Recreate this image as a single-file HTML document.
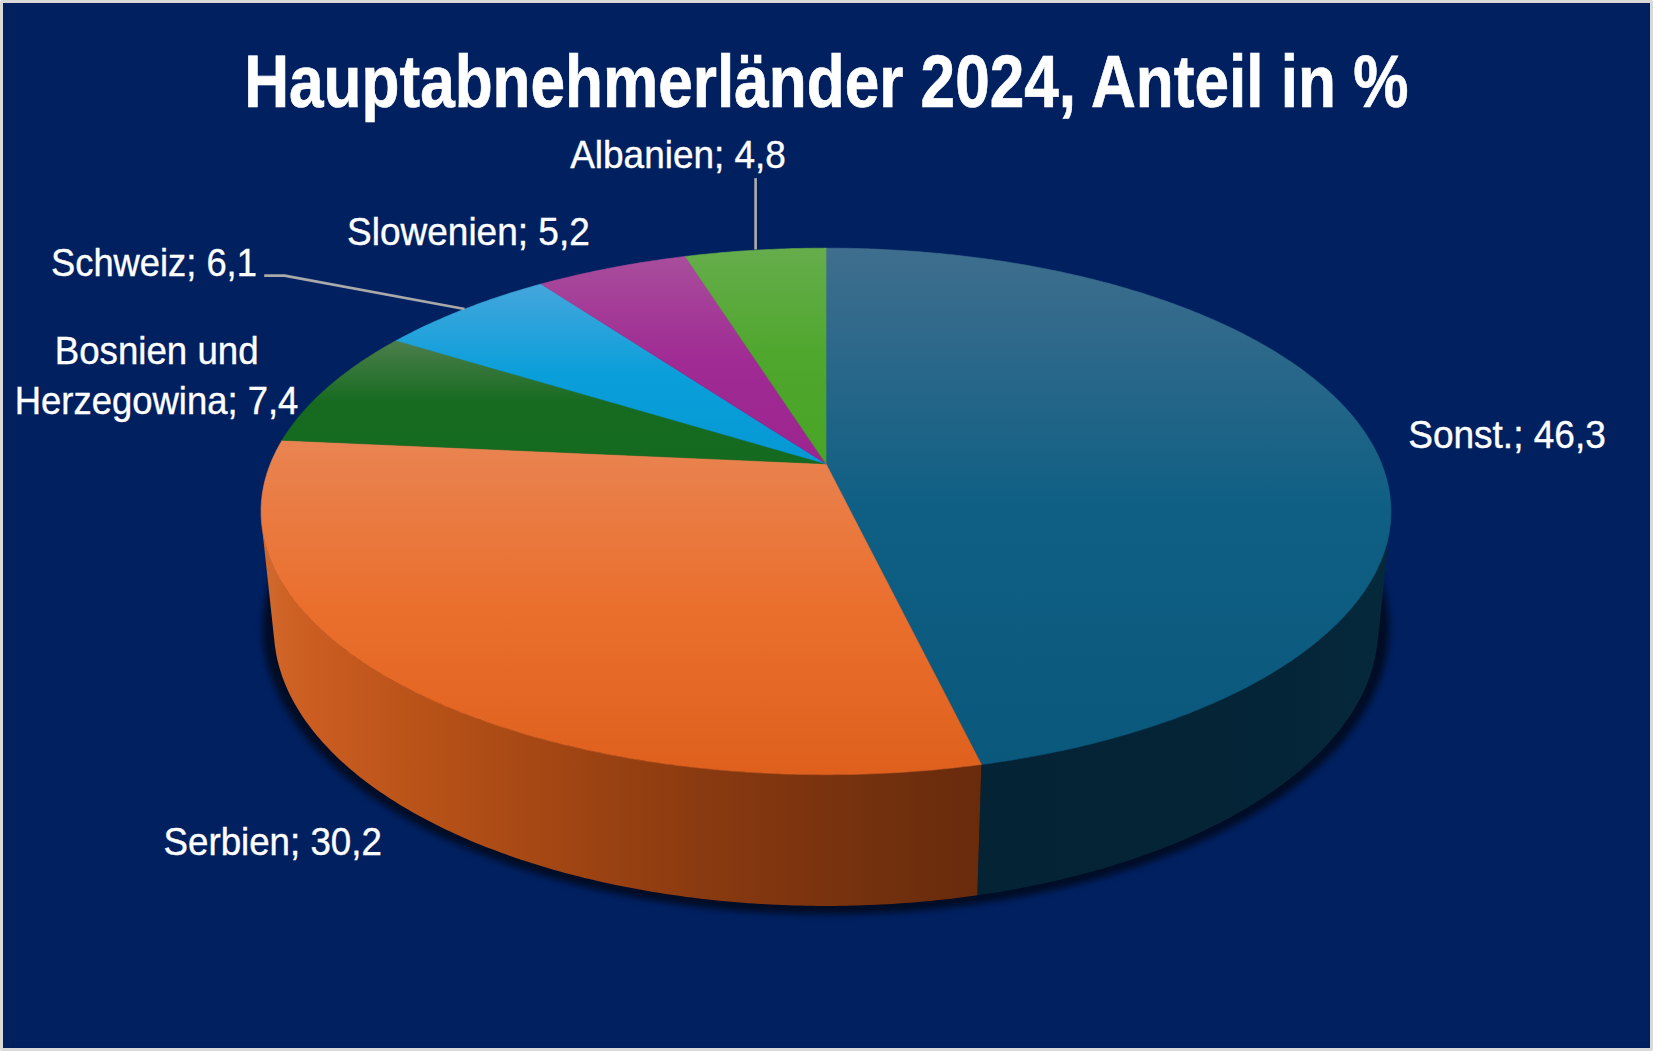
<!DOCTYPE html>
<html lang="de"><head><meta charset="utf-8"><title>Hauptabnehmerländer 2024, Anteil in %</title>
<style>
html,body{margin:0;padding:0;background:#d9d9d9;}
body{width:1653px;height:1051px;overflow:hidden;position:relative;}
#chart{position:absolute;left:3px;top:3px;width:1647px;height:1045px;background:#002060;box-shadow:inset 0 0 1px #00104a;}
svg{position:absolute;left:0;top:0;}
text{font-family:"Liberation Sans",sans-serif;fill:#fff;}
.lb{font-size:39.3px;stroke:#fff;stroke-width:0.4px;}
.ti{font-size:73.7px;font-weight:bold;stroke:#fff;stroke-width:0.7px;}
</style></head><body>
<div id="chart"></div>
<svg width="1653" height="1051" viewBox="0 0 1653 1051">
<defs>
<linearGradient id="g0" x1="0" y1="0" x2="0" y2="1"><stop offset="0" stop-color="#3f6e8e"/><stop offset="0.5" stop-color="#0f5f84"/><stop offset="1" stop-color="#0a587c"/></linearGradient>
<linearGradient id="g1" x1="0" y1="0" x2="0" y2="1"><stop offset="0" stop-color="#e98452"/><stop offset="0.5" stop-color="#ea6f2d"/><stop offset="1" stop-color="#df601d"/></linearGradient>
<linearGradient id="g2" x1="0" y1="0" x2="0" y2="1"><stop offset="0" stop-color="#4d7e4c"/><stop offset="0.5" stop-color="#166b20"/><stop offset="1" stop-color="#146a1e"/></linearGradient>
<linearGradient id="g3" x1="0" y1="0" x2="0" y2="1"><stop offset="0" stop-color="#44a6dc"/><stop offset="0.5" stop-color="#0a9fda"/><stop offset="1" stop-color="#0598d4"/></linearGradient>
<linearGradient id="g4" x1="0" y1="0" x2="0" y2="1"><stop offset="0" stop-color="#a84d9c"/><stop offset="0.5" stop-color="#a02b94"/><stop offset="1" stop-color="#9c2490"/></linearGradient>
<linearGradient id="g5" x1="0" y1="0" x2="0" y2="1"><stop offset="0" stop-color="#66ad4c"/><stop offset="0.5" stop-color="#4fa72d"/><stop offset="1" stop-color="#48a426"/></linearGradient>
<linearGradient id="sO" gradientUnits="userSpaceOnUse" x1="262" y1="0" x2="980" y2="0"><stop offset="0" stop-color="#d06a30"/><stop offset="0.03" stop-color="#cf6326"/><stop offset="0.07" stop-color="#cb5d21"/><stop offset="0.227" stop-color="#b85218"/><stop offset="0.33" stop-color="#ac4b15"/><stop offset="0.47" stop-color="#9b4212"/><stop offset="0.61" stop-color="#8a3a10"/><stop offset="0.75" stop-color="#7d340f"/><stop offset="0.89" stop-color="#702f0d"/><stop offset="1" stop-color="#682b0c"/></linearGradient>
<linearGradient id="sT" gradientUnits="userSpaceOnUse" x1="978" y1="0" x2="1390" y2="0"><stop offset="0" stop-color="#042436"/><stop offset="0.75" stop-color="#042537"/><stop offset="1" stop-color="#05293b"/></linearGradient>
<filter id="sh" x="-5%" y="-5%" width="110%" height="110%"><feGaussianBlur stdDeviation="3.3"/></filter>
</defs>
<g filter="url(#sh)" opacity="0.6"><path d="M826.0 341.1 L830.1 341.1 L834.2 341.1 L838.3 341.2 L842.4 341.2 L846.5 341.3 L850.7 341.4 L854.8 341.5 L858.9 341.6 L863.0 341.7 L867.1 341.9 L871.2 342.0 L875.3 342.2 L879.4 342.4 L883.5 342.6 L887.6 342.8 L891.6 343.1 L895.7 343.3 L899.8 343.6 L903.9 343.9 L908.0 344.2 L912.0 344.5 L916.1 344.8 L920.2 345.1 L924.2 345.5 L928.3 345.9 L932.4 346.3 L936.4 346.7 L940.5 347.1 L944.5 347.5 L948.5 348.0 L952.6 348.4 L956.6 348.9 L960.6 349.4 L964.6 349.9 L968.6 350.4 L972.6 351.0 L976.6 351.5 L980.6 352.1 L984.6 352.7 L988.6 353.3 L992.5 353.9 L996.5 354.6 L1000.4 355.2 L1004.4 355.9 L1008.3 356.5 L1012.3 357.2 L1016.2 357.9 L1020.1 358.7 L1024.0 359.4 L1027.9 360.2 L1031.8 360.9 L1035.7 361.7 L1039.5 362.5 L1043.4 363.3 L1047.2 364.1 L1051.1 365.0 L1054.9 365.8 L1058.7 366.7 L1062.5 367.6 L1066.3 368.5 L1070.1 369.4 L1073.9 370.4 L1077.7 371.3 L1081.4 372.3 L1085.2 373.3 L1088.9 374.2 L1092.6 375.3 L1096.3 376.3 L1100.0 377.3 L1103.7 378.4 L1107.4 379.4 L1111.0 380.5 L1114.7 381.6 L1118.3 382.7 L1121.9 383.9 L1125.5 385.0 L1129.1 386.1 L1132.7 387.3 L1136.2 388.5 L1139.8 389.7 L1143.3 390.9 L1146.8 392.2 L1150.3 393.4 L1153.8 394.7 L1157.3 395.9 L1160.7 397.2 L1164.2 398.5 L1167.6 399.8 L1171.0 401.2 L1174.4 402.5 L1177.8 403.9 L1181.1 405.2 L1184.4 406.6 L1187.8 408.0 L1191.1 409.5 L1194.3 410.9 L1197.6 412.3 L1200.8 413.8 L1204.1 415.3 L1207.3 416.8 L1210.5 418.3 L1213.6 419.8 L1216.8 421.3 L1219.9 422.9 L1223.0 424.4 L1226.1 426.0 L1229.2 427.6 L1232.2 429.2 L1235.2 430.8 L1238.2 432.4 L1241.2 434.1 L1244.2 435.7 L1247.1 437.4 L1250.0 439.1 L1252.9 440.8 L1255.8 442.5 L1258.7 444.2 L1261.5 445.9 L1264.3 447.7 L1267.1 449.5 L1269.8 451.2 L1272.5 453.0 L1275.2 454.8 L1277.9 456.7 L1280.6 458.5 L1283.2 460.3 L1285.8 462.2 L1288.4 464.1 L1290.9 465.9 L1293.5 467.8 L1296.0 469.7 L1298.4 471.7 L1300.9 473.6 L1303.3 475.5 L1305.7 477.5 L1308.0 479.5 L1310.4 481.4 L1312.7 483.4 L1314.9 485.4 L1317.2 487.5 L1319.4 489.5 L1321.6 491.5 L1323.8 493.6 L1325.9 495.7 L1328.0 497.7 L1330.1 499.8 L1332.1 501.9 L1334.1 504.0 L1336.1 506.2 L1338.0 508.3 L1339.9 510.4 L1341.8 512.6 L1343.7 514.8 L1345.5 516.9 L1347.3 519.1 L1349.0 521.3 L1350.7 523.5 L1352.4 525.8 L1354.1 528.0 L1355.7 530.2 L1357.2 532.5 L1358.8 534.7 L1360.3 537.0 L1361.8 539.3 L1363.2 541.6 L1364.6 543.9 L1366.0 546.2 L1367.3 548.5 L1368.6 550.8 L1369.9 553.2 L1371.1 555.5 L1372.3 557.9 L1373.4 560.2 L1374.5 562.6 L1375.6 565.0 L1376.6 567.4 L1377.6 569.8 L1378.6 572.2 L1379.5 574.6 L1380.4 577.0 L1381.2 579.4 L1382.0 581.9 L1382.8 584.3 L1383.5 586.8 L1384.2 589.2 L1384.8 591.7 L1385.4 594.1 L1385.9 596.6 L1386.5 599.1 L1386.9 601.6 L1387.4 604.1 L1387.7 606.6 L1388.1 609.1 L1388.4 611.6 L1388.6 614.1 L1388.9 616.6 L1389.0 619.1 L1389.2 621.7 L1389.2 624.2 L1389.3 626.7 L1389.3 629.3 L1389.2 631.8 L1389.1 634.4 L1389.0 636.9 L1388.8 639.5 L1388.6 642.1 L1388.3 644.6 L1388.0 647.2 L1387.6 649.7 L1387.2 652.3 L1386.7 654.9 L1386.2 657.5 L1385.7 660.0 L1385.1 662.6 L1384.5 665.2 L1383.8 667.8 L1383.0 670.4 L1382.2 672.9 L1381.4 675.5 L1380.5 678.1 L1379.6 680.7 L1378.6 683.2 L1377.6 685.8 L1376.5 688.4 L1375.4 691.0 L1374.2 693.6 L1373.0 696.1 L1371.8 698.7 L1370.4 701.3 L1369.1 703.8 L1367.7 706.4 L1366.2 709.0 L1364.7 711.5 L1363.1 714.1 L1361.5 716.6 L1359.9 719.2 L1358.2 721.7 L1356.4 724.3 L1354.6 726.8 L1352.7 729.3 L1350.8 731.8 L1348.9 734.4 L1346.9 736.9 L1344.8 739.4 L1342.7 741.9 L1340.6 744.4 L1338.4 746.9 L1336.1 749.3 L1333.8 751.8 L1331.5 754.3 L1329.1 756.7 L1326.6 759.2 L1324.1 761.6 L1321.6 764.0 L1319.0 766.5 L1316.3 768.9 L1313.6 771.3 L1310.9 773.7 L1308.1 776.0 L1305.2 778.4 L1302.3 780.8 L1299.4 783.1 L1296.4 785.4 L1293.4 787.8 L1290.3 790.1 L1287.1 792.4 L1283.9 794.7 L1280.7 796.9 L1277.4 799.2 L1274.1 801.4 L1270.7 803.7 L1267.3 805.9 L1263.8 808.1 L1260.3 810.3 L1256.8 812.5 L1253.2 814.6 L1249.5 816.8 L1245.8 818.9 L1242.1 821.0 L1238.3 823.1 L1234.4 825.2 L1230.6 827.2 L1226.6 829.3 L1222.7 831.3 L1218.6 833.3 L1214.6 835.3 L1210.5 837.2 L1206.3 839.2 L1202.2 841.1 L1197.9 843.0 L1193.7 844.9 L1189.3 846.8 L1185.0 848.7 L1180.6 850.5 L1176.2 852.3 L1171.7 854.1 L1167.2 855.8 L1162.6 857.6 L1158.0 859.3 L1153.4 861.0 L1148.7 862.7 L1144.0 864.4 L1139.3 866.0 L1134.5 867.6 L1129.7 869.2 L1124.8 870.7 L1119.9 872.3 L1115.0 873.8 L1110.1 875.3 L1105.1 876.8 L1100.1 878.2 L1095.0 879.6 L1089.9 881.0 L1084.8 882.4 L1079.6 883.7 L1074.5 885.0 L1069.3 886.3 L1064.0 887.6 L1058.8 888.8 L1053.5 890.0 L1048.1 891.2 L1042.8 892.3 L1037.4 893.5 L1032.0 894.6 L1026.6 895.6 L1021.1 896.7 L1015.7 897.7 L1010.2 898.7 L1004.6 899.6 L999.1 900.5 L993.5 901.4 L987.9 902.3 L982.3 903.1 L976.7 904.0 L971.1 904.7 L965.4 905.5 L959.7 906.2 L954.0 906.9 L948.3 907.6 L942.6 908.2 L936.9 908.8 L931.1 909.4 L925.3 909.9 L919.6 910.4 L913.8 910.9 L908.0 911.4 L902.2 911.8 L896.3 912.2 L890.5 912.5 L884.7 912.9 L878.8 913.1 L873.0 913.4 L867.1 913.6 L861.2 913.8 L855.4 914.0 L849.5 914.2 L843.6 914.3 L837.8 914.3 L831.9 914.4 L826.0 914.4 L820.1 914.4 L814.2 914.3 L808.4 914.3 L802.5 914.2 L796.6 914.0 L790.8 913.8 L784.9 913.6 L779.0 913.4 L773.2 913.1 L767.3 912.9 L761.5 912.5 L755.7 912.2 L749.8 911.8 L744.0 911.4 L738.2 910.9 L732.4 910.4 L726.7 909.9 L720.9 909.4 L715.1 908.8 L709.4 908.2 L703.7 907.6 L698.0 906.9 L692.3 906.2 L686.6 905.5 L680.9 904.7 L675.3 904.0 L669.7 903.1 L664.1 902.3 L658.5 901.4 L652.9 900.5 L647.4 899.6 L641.8 898.7 L636.3 897.7 L630.9 896.7 L625.4 895.6 L620.0 894.6 L614.6 893.5 L609.2 892.3 L603.9 891.2 L598.5 890.0 L593.2 888.8 L588.0 887.6 L582.7 886.3 L577.5 885.0 L572.4 883.7 L567.2 882.4 L562.1 881.0 L557.0 879.6 L551.9 878.2 L546.9 876.8 L541.9 875.3 L537.0 873.8 L532.1 872.3 L527.2 870.7 L522.3 869.2 L517.5 867.6 L512.7 866.0 L508.0 864.4 L503.3 862.7 L498.6 861.0 L494.0 859.3 L489.4 857.6 L484.8 855.8 L480.3 854.1 L475.8 852.3 L471.4 850.5 L467.0 848.7 L462.7 846.8 L458.3 844.9 L454.1 843.0 L449.8 841.1 L445.7 839.2 L441.5 837.2 L437.4 835.3 L433.4 833.3 L429.3 831.3 L425.4 829.3 L421.4 827.2 L417.6 825.2 L413.7 823.1 L409.9 821.0 L406.2 818.9 L402.5 816.8 L398.8 814.6 L395.2 812.5 L391.7 810.3 L388.2 808.1 L384.7 805.9 L381.3 803.7 L377.9 801.4 L374.6 799.2 L371.3 796.9 L368.1 794.7 L364.9 792.4 L361.7 790.1 L358.6 787.8 L355.6 785.4 L352.6 783.1 L349.7 780.8 L346.8 778.4 L343.9 776.0 L341.1 773.7 L338.4 771.3 L335.7 768.9 L333.0 766.5 L330.4 764.0 L327.9 761.6 L325.4 759.2 L322.9 756.7 L320.5 754.3 L318.2 751.8 L315.9 749.3 L313.6 746.9 L311.4 744.4 L309.3 741.9 L307.2 739.4 L305.1 736.9 L303.1 734.4 L301.2 731.8 L299.3 729.3 L297.4 726.8 L295.6 724.3 L293.8 721.7 L292.1 719.2 L290.5 716.6 L288.9 714.1 L287.3 711.5 L285.8 709.0 L284.3 706.4 L282.9 703.8 L281.6 701.3 L280.2 698.7 L279.0 696.1 L277.8 693.6 L276.6 691.0 L275.5 688.4 L274.4 685.8 L273.4 683.2 L272.4 680.7 L271.5 678.1 L270.6 675.5 L269.8 672.9 L269.0 670.4 L268.2 667.8 L267.5 665.2 L266.9 662.6 L266.3 660.0 L265.8 657.5 L265.3 654.9 L264.8 652.3 L264.4 649.7 L264.0 647.2 L263.7 644.6 L263.4 642.1 L263.2 639.5 L263.0 636.9 L262.9 634.4 L262.8 631.8 L262.7 629.3 L262.7 626.7 L262.8 624.2 L262.8 621.7 L263.0 619.1 L263.1 616.6 L263.4 614.1 L263.6 611.6 L263.9 609.1 L264.3 606.6 L264.6 604.1 L265.1 601.6 L265.5 599.1 L266.1 596.6 L266.6 594.1 L267.2 591.7 L267.8 589.2 L268.5 586.8 L269.2 584.3 L270.0 581.9 L270.8 579.4 L271.6 577.0 L272.5 574.6 L273.4 572.2 L274.4 569.8 L275.4 567.4 L276.4 565.0 L277.5 562.6 L278.6 560.2 L279.7 557.9 L280.9 555.5 L282.1 553.2 L283.4 550.8 L284.7 548.5 L286.0 546.2 L287.4 543.9 L288.8 541.6 L290.2 539.3 L291.7 537.0 L293.2 534.7 L294.8 532.5 L296.3 530.2 L297.9 528.0 L299.6 525.8 L301.3 523.5 L303.0 521.3 L304.7 519.1 L306.5 516.9 L308.3 514.8 L310.2 512.6 L312.1 510.4 L314.0 508.3 L315.9 506.2 L317.9 504.0 L319.9 501.9 L321.9 499.8 L324.0 497.7 L326.1 495.7 L328.2 493.6 L330.4 491.5 L332.6 489.5 L334.8 487.5 L337.1 485.4 L339.3 483.4 L341.6 481.4 L344.0 479.5 L346.3 477.5 L348.7 475.5 L351.1 473.6 L353.6 471.7 L356.0 469.7 L358.5 467.8 L361.1 465.9 L363.6 464.1 L366.2 462.2 L368.8 460.3 L371.4 458.5 L374.1 456.7 L376.8 454.8 L379.5 453.0 L382.2 451.2 L384.9 449.5 L387.7 447.7 L390.5 445.9 L393.3 444.2 L396.2 442.5 L399.1 440.8 L402.0 439.1 L404.9 437.4 L407.8 435.7 L410.8 434.1 L413.8 432.4 L416.8 430.8 L419.8 429.2 L422.8 427.6 L425.9 426.0 L429.0 424.4 L432.1 422.9 L435.2 421.3 L438.4 419.8 L441.5 418.3 L444.7 416.8 L447.9 415.3 L451.2 413.8 L454.4 412.3 L457.7 410.9 L460.9 409.5 L464.2 408.0 L467.6 406.6 L470.9 405.2 L474.2 403.9 L477.6 402.5 L481.0 401.2 L484.4 399.8 L487.8 398.5 L491.3 397.2 L494.7 395.9 L498.2 394.7 L501.7 393.4 L505.2 392.2 L508.7 390.9 L512.2 389.7 L515.8 388.5 L519.3 387.3 L522.9 386.1 L526.5 385.0 L530.1 383.9 L533.7 382.7 L537.3 381.6 L541.0 380.5 L544.6 379.4 L548.3 378.4 L552.0 377.3 L555.7 376.3 L559.4 375.3 L563.1 374.2 L566.8 373.3 L570.6 372.3 L574.3 371.3 L578.1 370.4 L581.9 369.4 L585.7 368.5 L589.5 367.6 L593.3 366.7 L597.1 365.8 L600.9 365.0 L604.8 364.1 L608.6 363.3 L612.5 362.5 L616.3 361.7 L620.2 360.9 L624.1 360.2 L628.0 359.4 L631.9 358.7 L635.8 357.9 L639.7 357.2 L643.7 356.5 L647.6 355.9 L651.6 355.2 L655.5 354.6 L659.5 353.9 L663.4 353.3 L667.4 352.7 L671.4 352.1 L675.4 351.5 L679.4 351.0 L683.4 350.4 L687.4 349.9 L691.4 349.4 L695.4 348.9 L699.4 348.4 L703.5 348.0 L707.5 347.5 L711.5 347.1 L715.6 346.7 L719.6 346.3 L723.7 345.9 L727.8 345.5 L731.8 345.1 L735.9 344.8 L740.0 344.5 L744.0 344.2 L748.1 343.9 L752.2 343.6 L756.3 343.3 L760.4 343.1 L764.4 342.8 L768.5 342.6 L772.6 342.4 L776.7 342.2 L780.8 342.0 L784.9 341.9 L789.0 341.7 L793.1 341.6 L797.2 341.5 L801.3 341.4 L805.5 341.3 L809.6 341.2 L813.7 341.2 L817.8 341.1 L821.9 341.1 L826.0 341.1 Z" fill="#000"/></g>
<path d="M1390.3 523.5 L1390.1 525.8 L1389.8 528.2 L1389.4 530.6 L1389.0 532.9 L1388.6 535.3 L1388.1 537.7 L1387.6 540.0 L1387.0 542.4 L1386.4 544.8 L1385.7 547.2 L1385.0 549.5 L1384.2 551.9 L1383.4 554.3 L1382.5 556.7 L1381.6 559.1 L1380.6 561.4 L1379.6 563.8 L1378.6 566.2 L1377.4 568.6 L1376.3 570.9 L1375.1 573.3 L1373.8 575.7 L1372.5 578.1 L1371.2 580.4 L1369.8 582.8 L1368.3 585.2 L1366.8 587.5 L1365.2 589.9 L1363.6 592.2 L1362.0 594.6 L1360.3 596.9 L1358.5 599.3 L1356.7 601.6 L1354.9 604.0 L1353.0 606.3 L1351.0 608.6 L1349.0 610.9 L1346.9 613.2 L1344.8 615.6 L1342.7 617.9 L1340.5 620.2 L1338.2 622.4 L1335.9 624.7 L1333.5 627.0 L1331.1 629.3 L1328.7 631.5 L1326.2 633.8 L1323.6 636.0 L1321.0 638.3 L1318.3 640.5 L1315.6 642.7 L1312.9 644.9 L1310.1 647.1 L1307.2 649.3 L1304.3 651.5 L1301.3 653.7 L1298.3 655.8 L1295.3 658.0 L1292.2 660.1 L1289.0 662.2 L1285.8 664.3 L1282.6 666.4 L1279.3 668.5 L1275.9 670.6 L1272.5 672.7 L1269.1 674.7 L1265.6 676.8 L1262.0 678.8 L1258.5 680.8 L1254.8 682.8 L1251.1 684.8 L1247.4 686.7 L1243.6 688.7 L1239.8 690.6 L1236.0 692.5 L1232.0 694.4 L1228.1 696.3 L1224.1 698.2 L1220.0 700.0 L1215.9 701.9 L1211.8 703.7 L1207.6 705.5 L1203.4 707.3 L1199.1 709.1 L1194.8 710.8 L1190.5 712.5 L1186.1 714.2 L1181.7 715.9 L1177.2 717.6 L1172.7 719.3 L1168.1 720.9 L1163.5 722.5 L1158.9 724.1 L1154.2 725.7 L1149.5 727.2 L1144.7 728.8 L1139.9 730.3 L1135.1 731.8 L1130.2 733.2 L1125.3 734.7 L1120.4 736.1 L1115.4 737.5 L1110.4 738.9 L1105.4 740.2 L1100.3 741.5 L1095.2 742.8 L1090.1 744.1 L1084.9 745.4 L1079.7 746.6 L1074.5 747.8 L1069.2 749.0 L1063.9 750.2 L1058.6 751.3 L1053.2 752.4 L1047.9 753.5 L1042.5 754.6 L1037.0 755.6 L1031.6 756.6 L1026.1 757.6 L1020.6 758.5 L1015.0 759.5 L1009.5 760.4 L1003.9 761.3 L998.3 762.1 L992.7 762.9 L987.0 763.7 L981.4 764.5 L977.3 895.3 L982.8 894.5 L988.3 893.6 L993.8 892.8 L999.3 891.9 L1004.7 891.0 L1010.1 890.0 L1015.5 889.0 L1020.9 888.0 L1026.2 887.0 L1031.5 885.9 L1036.8 884.8 L1042.1 883.7 L1047.3 882.6 L1052.5 881.4 L1057.7 880.2 L1062.9 879.0 L1068.0 877.8 L1073.1 876.5 L1078.2 875.2 L1083.2 873.9 L1088.3 872.6 L1093.2 871.2 L1098.2 869.8 L1103.1 868.4 L1108.0 866.9 L1112.8 865.5 L1117.6 864.0 L1122.4 862.5 L1127.2 860.9 L1131.9 859.4 L1136.5 857.8 L1141.2 856.2 L1145.8 854.5 L1150.3 852.9 L1154.9 851.2 L1159.4 849.5 L1163.8 847.8 L1168.2 846.1 L1172.6 844.3 L1176.9 842.5 L1181.2 840.7 L1185.5 838.9 L1189.7 837.1 L1193.8 835.2 L1198.0 833.4 L1202.0 831.5 L1206.1 829.6 L1210.1 827.6 L1214.0 825.7 L1218.0 823.7 L1221.8 821.7 L1225.7 819.7 L1229.4 817.7 L1233.2 815.7 L1236.9 813.6 L1240.5 811.6 L1244.1 809.5 L1247.7 807.4 L1251.2 805.3 L1254.6 803.2 L1258.1 801.0 L1261.4 798.9 L1264.8 796.7 L1268.0 794.5 L1271.3 792.3 L1274.5 790.1 L1277.6 787.9 L1280.7 785.6 L1283.7 783.4 L1286.7 781.1 L1289.7 778.9 L1292.6 776.6 L1295.4 774.3 L1298.2 772.0 L1301.0 769.7 L1303.7 767.3 L1306.4 765.0 L1309.0 762.7 L1311.5 760.3 L1314.0 758.0 L1316.5 755.6 L1318.9 753.2 L1321.3 750.8 L1323.6 748.4 L1325.9 746.0 L1328.1 743.6 L1330.3 741.2 L1332.4 738.8 L1334.5 736.3 L1336.5 733.9 L1338.5 731.4 L1340.4 729.0 L1342.3 726.5 L1344.1 724.1 L1345.9 721.6 L1347.6 719.1 L1349.3 716.7 L1350.9 714.2 L1352.5 711.7 L1354.1 709.2 L1355.5 706.7 L1357.0 704.2 L1358.4 701.8 L1359.7 699.3 L1361.0 696.8 L1362.3 694.3 L1363.5 691.7 L1364.6 689.2 L1365.7 686.7 L1366.8 684.2 L1367.8 681.7 L1368.7 679.2 L1369.7 676.7 L1370.5 674.2 L1371.4 671.7 L1372.1 669.2 L1372.9 666.7 L1373.5 664.1 L1374.2 661.6 L1374.8 659.1 L1375.3 656.6 L1375.8 654.1 L1376.2 651.6 L1376.6 649.1 L1377.0 646.6 L1377.3 644.1 L1377.6 641.6 Z" fill="url(#sT)"/>
<path d="M981.4 764.5 L975.7 765.2 L970.0 766.0 L964.3 766.7 L958.5 767.3 L952.7 767.9 L947.0 768.5 L941.2 769.1 L935.4 769.7 L929.6 770.2 L923.7 770.7 L917.9 771.1 L912.0 771.6 L906.2 772.0 L900.3 772.4 L894.4 772.7 L888.5 773.0 L882.6 773.3 L876.7 773.6 L870.8 773.8 L864.9 774.0 L858.9 774.2 L853.0 774.4 L847.1 774.5 L841.1 774.6 L835.2 774.6 L829.2 774.7 L823.3 774.7 L817.4 774.6 L811.4 774.6 L805.5 774.5 L799.5 774.4 L793.6 774.2 L787.7 774.0 L781.8 773.8 L775.8 773.6 L769.9 773.4 L764.0 773.1 L758.1 772.7 L752.2 772.4 L746.4 772.0 L740.5 771.6 L734.6 771.2 L728.8 770.7 L723.0 770.2 L717.1 769.7 L711.3 769.2 L705.5 768.6 L699.8 768.0 L694.0 767.4 L688.3 766.7 L682.5 766.0 L676.8 765.3 L671.1 764.6 L665.5 763.8 L659.8 763.0 L654.2 762.2 L648.6 761.3 L643.0 760.5 L637.4 759.6 L631.9 758.6 L626.4 757.7 L620.9 756.7 L615.4 755.7 L610.0 754.7 L604.6 753.6 L599.2 752.5 L593.8 751.4 L588.5 750.3 L583.2 749.1 L577.9 747.9 L572.7 746.7 L567.5 745.5 L562.3 744.2 L557.2 742.9 L552.1 741.6 L547.0 740.3 L541.9 739.0 L536.9 737.6 L531.9 736.2 L527.0 734.8 L522.1 733.3 L517.2 731.9 L512.4 730.4 L507.6 728.9 L502.8 727.3 L498.1 725.8 L493.4 724.2 L488.8 722.6 L484.2 721.0 L479.6 719.4 L475.1 717.7 L470.6 716.0 L466.2 714.4 L461.8 712.6 L457.4 710.9 L453.1 709.2 L448.8 707.4 L444.6 705.6 L440.4 703.8 L436.3 702.0 L432.2 700.1 L428.1 698.3 L424.1 696.4 L420.2 694.5 L416.2 692.6 L412.4 690.7 L408.6 688.8 L404.8 686.8 L401.0 684.9 L397.4 682.9 L393.7 680.9 L390.1 678.9 L386.6 676.8 L383.1 674.8 L379.6 672.8 L376.2 670.7 L372.9 668.6 L369.6 666.5 L366.3 664.4 L363.1 662.3 L359.9 660.2 L356.8 658.0 L353.8 655.9 L350.8 653.7 L347.8 651.6 L344.9 649.4 L342.0 647.2 L339.2 645.0 L336.5 642.8 L333.7 640.6 L331.1 638.3 L328.5 636.1 L325.9 633.9 L323.4 631.6 L320.9 629.3 L318.5 627.1 L316.2 624.8 L313.8 622.5 L311.6 620.2 L309.4 617.9 L307.2 615.6 L305.1 613.3 L303.1 611.0 L301.0 608.7 L299.1 606.3 L297.2 604.0 L295.3 601.7 L293.5 599.3 L291.8 597.0 L290.1 594.6 L288.4 592.3 L286.8 589.9 L285.2 587.6 L283.7 585.2 L282.3 582.8 L280.9 580.5 L279.5 578.1 L278.2 575.7 L276.9 573.4 L275.7 571.0 L274.6 568.6 L273.5 566.2 L272.4 563.8 L271.4 561.5 L270.4 559.1 L269.5 556.7 L268.6 554.3 L267.8 551.9 L267.0 549.6 L266.3 547.2 L265.6 544.8 L265.0 542.4 L264.4 540.0 L263.9 537.7 L263.4 535.3 L263.0 532.9 L262.6 530.5 L262.2 528.2 L261.9 525.8 L274.7 644.1 L275.0 646.6 L275.4 649.1 L275.8 651.6 L276.2 654.1 L276.7 656.6 L277.2 659.1 L277.8 661.6 L278.5 664.2 L279.2 666.7 L279.9 669.2 L280.7 671.7 L281.5 674.2 L282.3 676.7 L283.3 679.2 L284.2 681.7 L285.2 684.2 L286.3 686.8 L287.4 689.3 L288.5 691.8 L289.7 694.3 L291.0 696.8 L292.3 699.3 L293.6 701.8 L295.0 704.3 L296.5 706.8 L298.0 709.3 L299.5 711.8 L301.1 714.2 L302.7 716.7 L304.4 719.2 L306.2 721.7 L307.9 724.1 L309.8 726.6 L311.6 729.1 L313.6 731.5 L315.6 733.9 L317.6 736.4 L319.7 738.8 L321.8 741.2 L324.0 743.7 L326.2 746.1 L328.5 748.5 L330.8 750.9 L333.1 753.3 L335.6 755.7 L338.0 758.0 L340.5 760.4 L343.1 762.7 L345.7 765.1 L348.4 767.4 L351.1 769.8 L353.9 772.1 L356.7 774.4 L359.5 776.7 L362.4 778.9 L365.4 781.2 L368.4 783.5 L371.4 785.7 L374.5 788.0 L377.7 790.2 L380.9 792.4 L384.1 794.6 L387.4 796.8 L390.7 799.0 L394.1 801.1 L397.5 803.2 L401.0 805.4 L404.5 807.5 L408.1 809.6 L411.7 811.7 L415.3 813.7 L419.0 815.8 L422.8 817.8 L426.5 819.8 L430.4 821.8 L434.3 823.8 L438.2 825.8 L442.1 827.7 L446.1 829.7 L450.2 831.6 L454.3 833.5 L458.4 835.3 L462.6 837.2 L466.8 839.0 L471.0 840.9 L475.3 842.7 L479.7 844.4 L484.1 846.2 L488.5 847.9 L492.9 849.6 L497.4 851.3 L501.9 853.0 L506.5 854.6 L511.1 856.3 L515.8 857.9 L520.4 859.5 L525.2 861.0 L529.9 862.6 L534.7 864.1 L539.5 865.6 L544.4 867.0 L549.3 868.5 L554.2 869.9 L559.1 871.3 L564.1 872.7 L569.1 874.0 L574.2 875.3 L579.3 876.6 L584.4 877.9 L589.5 879.1 L594.7 880.3 L599.9 881.5 L605.1 882.7 L610.3 883.8 L615.6 884.9 L620.9 886.0 L626.2 887.1 L631.6 888.1 L637.0 889.1 L642.4 890.1 L647.8 891.0 L653.2 891.9 L658.7 892.8 L664.2 893.7 L669.7 894.5 L675.2 895.3 L680.7 896.1 L686.3 896.9 L691.9 897.6 L697.5 898.3 L703.1 898.9 L708.7 899.6 L714.4 900.2 L720.0 900.7 L725.7 901.3 L731.4 901.8 L737.0 902.3 L742.8 902.7 L748.5 903.2 L754.2 903.5 L759.9 903.9 L765.7 904.2 L771.4 904.5 L777.2 904.8 L782.9 905.1 L788.7 905.3 L794.5 905.5 L800.2 905.6 L806.0 905.7 L811.8 905.8 L817.6 905.9 L823.4 905.9 L829.2 905.9 L834.9 905.9 L840.7 905.8 L846.5 905.7 L852.3 905.6 L858.1 905.4 L863.8 905.3 L869.6 905.0 L875.4 904.8 L881.1 904.5 L886.9 904.2 L892.6 903.9 L898.3 903.5 L904.1 903.1 L909.8 902.7 L915.5 902.2 L921.2 901.8 L926.8 901.2 L932.5 900.7 L938.2 900.1 L943.8 899.5 L949.4 898.9 L955.0 898.2 L960.6 897.5 L966.2 896.8 L971.8 896.0 L977.3 895.3 Z" fill="url(#sO)"/>
<path d="M826.0 463.8 L826.0 248.1 L830.1 248.2 L834.2 248.2 L838.3 248.2 L842.4 248.3 L846.5 248.3 L850.7 248.4 L854.8 248.5 L858.9 248.6 L863.0 248.7 L867.1 248.8 L871.2 249.0 L875.3 249.1 L879.4 249.3 L883.5 249.5 L887.6 249.7 L891.6 249.9 L895.7 250.2 L899.8 250.4 L903.9 250.7 L908.0 250.9 L912.0 251.2 L916.1 251.5 L920.2 251.8 L924.2 252.2 L928.3 252.5 L932.4 252.9 L936.4 253.2 L940.5 253.6 L944.5 254.0 L948.5 254.4 L952.6 254.8 L956.6 255.3 L960.6 255.7 L964.6 256.2 L968.6 256.7 L972.6 257.2 L976.6 257.7 L980.6 258.2 L984.6 258.7 L988.6 259.3 L992.5 259.8 L996.5 260.4 L1000.5 261.0 L1004.4 261.6 L1008.3 262.2 L1012.3 262.9 L1016.2 263.5 L1020.1 264.2 L1024.0 264.8 L1027.9 265.5 L1031.8 266.2 L1035.7 267.0 L1039.6 267.7 L1043.4 268.4 L1047.3 269.2 L1051.1 270.0 L1055.0 270.7 L1058.8 271.5 L1062.6 272.3 L1066.4 273.2 L1070.2 274.0 L1074.0 274.9 L1077.7 275.7 L1081.5 276.6 L1085.3 277.5 L1089.0 278.4 L1092.7 279.3 L1096.4 280.3 L1100.1 281.2 L1103.8 282.2 L1107.5 283.1 L1111.1 284.1 L1114.8 285.1 L1118.4 286.2 L1122.1 287.2 L1125.7 288.2 L1129.3 289.3 L1132.8 290.4 L1136.4 291.4 L1140.0 292.5 L1143.5 293.6 L1147.0 294.8 L1150.5 295.9 L1154.0 297.1 L1157.5 298.2 L1160.9 299.4 L1164.4 300.6 L1167.8 301.8 L1171.2 303.0 L1174.6 304.2 L1178.0 305.5 L1181.4 306.7 L1184.7 308.0 L1188.0 309.3 L1191.3 310.6 L1194.6 311.9 L1197.9 313.2 L1201.2 314.6 L1204.4 315.9 L1207.6 317.3 L1210.8 318.7 L1214.0 320.0 L1217.1 321.4 L1220.3 322.9 L1223.4 324.3 L1226.5 325.7 L1229.6 327.2 L1232.6 328.6 L1235.7 330.1 L1238.7 331.6 L1241.7 333.1 L1244.6 334.6 L1247.6 336.2 L1250.5 337.7 L1253.4 339.3 L1256.3 340.8 L1259.2 342.4 L1262.0 344.0 L1264.8 345.6 L1267.6 347.2 L1270.4 348.8 L1273.1 350.5 L1275.8 352.1 L1278.5 353.8 L1281.2 355.5 L1283.8 357.2 L1286.4 358.9 L1289.0 360.6 L1291.6 362.3 L1294.1 364.0 L1296.6 365.8 L1299.1 367.5 L1301.6 369.3 L1304.0 371.1 L1306.4 372.9 L1308.8 374.7 L1311.1 376.5 L1313.4 378.3 L1315.7 380.2 L1318.0 382.0 L1320.2 383.9 L1322.4 385.8 L1324.6 387.6 L1326.7 389.5 L1328.9 391.4 L1330.9 393.3 L1333.0 395.3 L1335.0 397.2 L1337.0 399.2 L1339.0 401.1 L1340.9 403.1 L1342.8 405.1 L1344.7 407.0 L1346.5 409.0 L1348.3 411.1 L1350.0 413.1 L1351.8 415.1 L1353.5 417.1 L1355.1 419.2 L1356.8 421.2 L1358.4 423.3 L1359.9 425.4 L1361.4 427.5 L1362.9 429.6 L1364.4 431.7 L1365.8 433.8 L1367.2 435.9 L1368.5 438.0 L1369.8 440.2 L1371.1 442.3 L1372.4 444.4 L1373.6 446.6 L1374.7 448.8 L1375.8 451.0 L1376.9 453.1 L1378.0 455.3 L1379.0 457.5 L1379.9 459.7 L1380.9 462.0 L1381.8 464.2 L1382.6 466.4 L1383.4 468.6 L1384.2 470.9 L1384.9 473.1 L1385.6 475.4 L1386.3 477.7 L1386.9 479.9 L1387.4 482.2 L1388.0 484.5 L1388.5 486.8 L1388.9 489.1 L1389.3 491.4 L1389.6 493.7 L1390.0 496.0 L1390.2 498.3 L1390.5 500.6 L1390.6 502.9 L1390.8 505.2 L1390.9 507.6 L1390.9 509.9 L1390.9 512.2 L1390.9 514.6 L1390.8 516.9 L1390.7 519.3 L1390.5 521.6 L1390.3 524.0 L1390.0 526.3 L1389.7 528.7 L1389.4 531.1 L1388.9 533.4 L1388.5 535.8 L1388.0 538.2 L1387.5 540.5 L1386.9 542.9 L1386.2 545.3 L1385.5 547.7 L1384.8 550.0 L1384.0 552.4 L1383.2 554.8 L1382.3 557.2 L1381.4 559.5 L1380.4 561.9 L1379.4 564.3 L1378.3 566.6 L1377.2 569.0 L1376.1 571.4 L1374.9 573.8 L1373.6 576.1 L1372.3 578.5 L1370.9 580.9 L1369.5 583.2 L1368.0 585.6 L1366.5 587.9 L1365.0 590.3 L1363.4 592.6 L1361.7 595.0 L1360.0 597.3 L1358.2 599.7 L1356.4 602.0 L1354.6 604.3 L1352.6 606.7 L1350.7 609.0 L1348.7 611.3 L1346.6 613.6 L1344.5 615.9 L1342.3 618.2 L1340.1 620.5 L1337.9 622.8 L1335.6 625.1 L1333.2 627.3 L1330.8 629.6 L1328.3 631.9 L1325.8 634.1 L1323.3 636.3 L1320.6 638.6 L1318.0 640.8 L1315.3 643.0 L1312.5 645.2 L1309.7 647.4 L1306.8 649.6 L1303.9 651.8 L1301.0 653.9 L1298.0 656.1 L1294.9 658.2 L1291.8 660.4 L1288.7 662.5 L1285.4 664.6 L1282.2 666.7 L1278.9 668.8 L1275.5 670.8 L1272.2 672.9 L1268.7 674.9 L1265.2 677.0 L1261.7 679.0 L1258.1 681.0 L1254.5 683.0 L1250.8 685.0 L1247.1 686.9 L1243.3 688.9 L1239.5 690.8 L1235.6 692.7 L1231.7 694.6 L1227.7 696.5 L1223.7 698.4 L1219.7 700.2 L1215.6 702.0 L1211.5 703.9 L1207.3 705.6 L1203.1 707.4 L1198.8 709.2 L1194.5 710.9 L1190.2 712.7 L1185.8 714.4 L1181.3 716.1 L1176.9 717.7 L1172.4 719.4 L1167.8 721.0 L1163.2 722.6 L1158.6 724.2 L1153.9 725.8 L1149.2 727.3 L1144.5 728.8 L1139.7 730.3 L1134.9 731.8 L1130.0 733.3 L1125.1 734.7 L1120.2 736.1 L1115.2 737.5 L1110.2 738.9 L1105.2 740.3 L1100.1 741.6 L1095.0 742.9 L1089.9 744.2 L1084.7 745.4 L1079.5 746.7 L1074.3 747.9 L1069.1 749.0 L1063.8 750.2 L1058.5 751.3 L1053.1 752.4 L1047.8 753.5 L1042.4 754.6 L1036.9 755.6 L1031.5 756.6 L1026.0 757.6 L1020.5 758.6 L1015.0 759.5 L1009.4 760.4 L1003.9 761.3 L998.3 762.1 L992.7 762.9 L987.0 763.7 L981.4 764.5 Z" fill="url(#g0)" stroke="url(#g0)" stroke-width="0.6"/>
<path d="M826.0 463.8 L981.4 764.5 L975.7 765.2 L970.0 766.0 L964.3 766.6 L958.5 767.3 L952.8 767.9 L947.0 768.5 L941.2 769.1 L935.5 769.7 L929.6 770.2 L923.8 770.7 L918.0 771.1 L912.1 771.6 L906.3 772.0 L900.4 772.4 L894.5 772.7 L888.6 773.0 L882.8 773.3 L876.9 773.6 L870.9 773.8 L865.0 774.0 L859.1 774.2 L853.2 774.4 L847.3 774.5 L841.3 774.6 L835.4 774.6 L829.5 774.7 L823.5 774.7 L817.6 774.6 L811.7 774.6 L805.8 774.5 L799.8 774.4 L793.9 774.2 L788.0 774.1 L782.1 773.9 L776.2 773.6 L770.3 773.4 L764.4 773.1 L758.5 772.8 L752.6 772.4 L746.7 772.1 L740.9 771.6 L735.0 771.2 L729.2 770.8 L723.4 770.3 L717.5 769.8 L711.8 769.2 L706.0 768.6 L700.2 768.0 L694.4 767.4 L688.7 766.8 L683.0 766.1 L677.3 765.4 L671.6 764.6 L665.9 763.9 L660.3 763.1 L654.7 762.3 L649.1 761.4 L643.5 760.5 L637.9 759.6 L632.4 758.7 L626.9 757.8 L621.4 756.8 L616.0 755.8 L610.5 754.8 L605.1 753.7 L599.7 752.6 L594.4 751.5 L589.1 750.4 L583.8 749.2 L578.5 748.0 L573.3 746.8 L568.1 745.6 L562.9 744.4 L557.7 743.1 L552.6 741.8 L547.6 740.5 L542.5 739.1 L537.5 737.7 L532.5 736.4 L527.6 734.9 L522.7 733.5 L517.8 732.0 L513.0 730.6 L508.2 729.1 L503.5 727.5 L498.7 726.0 L494.1 724.4 L489.4 722.8 L484.8 721.2 L480.3 719.6 L475.7 717.9 L471.3 716.3 L466.8 714.6 L462.4 712.9 L458.1 711.2 L453.8 709.4 L449.5 707.7 L445.3 705.9 L441.1 704.1 L436.9 702.3 L432.8 700.4 L428.8 698.6 L424.8 696.7 L420.8 694.8 L416.9 692.9 L413.0 691.0 L409.2 689.1 L405.4 687.1 L401.7 685.2 L398.0 683.2 L394.3 681.2 L390.7 679.2 L387.2 677.2 L383.7 675.2 L380.2 673.1 L376.8 671.1 L373.5 669.0 L370.2 666.9 L366.9 664.8 L363.7 662.7 L360.5 660.6 L357.4 658.4 L354.4 656.3 L351.3 654.2 L348.4 652.0 L345.5 649.8 L342.6 647.6 L339.8 645.4 L337.0 643.2 L334.3 641.0 L331.6 638.8 L329.0 636.6 L326.4 634.3 L323.9 632.1 L321.4 629.8 L319.0 627.5 L316.7 625.3 L314.3 623.0 L312.1 620.7 L309.9 618.4 L307.7 616.1 L305.6 613.8 L303.5 611.5 L301.5 609.2 L299.5 606.9 L297.6 604.5 L295.7 602.2 L293.9 599.9 L292.2 597.5 L290.4 595.2 L288.8 592.8 L287.2 590.5 L285.6 588.1 L284.1 585.8 L282.6 583.4 L281.2 581.0 L279.8 578.7 L278.5 576.3 L277.2 573.9 L276.0 571.6 L274.8 569.2 L273.7 566.8 L272.7 564.4 L271.6 562.1 L270.7 559.7 L269.7 557.3 L268.8 554.9 L268.0 552.6 L267.2 550.2 L266.5 547.8 L265.8 545.4 L265.2 543.0 L264.6 540.7 L264.0 538.3 L263.5 535.9 L263.1 533.6 L262.7 531.2 L262.3 528.8 L262.0 526.5 L261.7 524.1 L261.5 521.8 L261.3 519.4 L261.2 517.0 L261.1 514.7 L261.1 512.4 L261.1 510.0 L261.1 507.7 L261.2 505.3 L261.4 503.0 L261.5 500.7 L261.8 498.4 L262.0 496.1 L262.3 493.8 L262.7 491.4 L263.1 489.1 L263.5 486.9 L264.0 484.6 L264.5 482.3 L265.1 480.0 L265.7 477.7 L266.4 475.5 L267.0 473.2 L267.8 471.0 L268.5 468.7 L269.4 466.5 L270.2 464.2 L271.1 462.0 L272.0 459.8 L273.0 457.6 L274.0 455.4 L275.1 453.2 L276.1 451.0 L277.3 448.8 L278.4 446.7 L279.6 444.5 L280.9 442.3 L282.1 440.2 Z" fill="url(#g1)" stroke="url(#g1)" stroke-width="0.6"/>
<path d="M826.0 463.8 L282.1 440.2 L283.4 438.0 L284.8 435.9 L286.2 433.8 L287.6 431.7 L289.1 429.5 L290.6 427.4 L292.1 425.4 L293.7 423.3 L295.3 421.2 L296.9 419.1 L298.6 417.1 L300.3 415.0 L302.0 413.0 L303.8 411.0 L305.6 409.0 L307.4 406.9 L309.3 405.0 L311.2 403.0 L313.2 401.0 L315.1 399.0 L317.1 397.1 L319.2 395.1 L321.2 393.2 L323.3 391.3 L325.4 389.4 L327.6 387.5 L329.8 385.6 L332.0 383.7 L334.2 381.8 L336.5 380.0 L338.8 378.1 L341.1 376.3 L343.5 374.5 L345.9 372.7 L348.3 370.9 L350.8 369.1 L353.2 367.3 L355.7 365.5 L358.3 363.8 L360.8 362.0 L363.4 360.3 L366.0 358.6 L368.6 356.9 L371.3 355.2 L374.0 353.5 L376.7 351.8 L379.4 350.2 L382.2 348.5 L384.9 346.9 L387.7 345.3 L390.6 343.7 L393.4 342.1 L396.3 340.5 Z" fill="url(#g2)" stroke="url(#g2)" stroke-width="0.6"/>
<path d="M826.0 463.8 L396.3 340.5 L399.2 338.9 L402.2 337.3 L405.2 335.8 L408.2 334.2 L411.3 332.7 L414.3 331.1 L417.4 329.6 L420.5 328.1 L423.6 326.6 L426.8 325.1 L429.9 323.7 L433.1 322.2 L436.3 320.8 L439.6 319.4 L442.8 318.0 L446.1 316.6 L449.4 315.2 L452.7 313.8 L456.0 312.5 L459.4 311.1 L462.7 309.8 L466.1 308.5 L469.5 307.2 L473.0 305.9 L476.4 304.6 L479.9 303.3 L483.3 302.1 L486.8 300.9 L490.3 299.6 L493.9 298.4 L497.4 297.3 L501.0 296.1 L504.6 294.9 L508.1 293.8 L511.7 292.6 L515.4 291.5 L519.0 290.4 L522.7 289.3 L526.3 288.2 L530.0 287.2 L533.7 286.1 L537.4 285.1 L541.1 284.1 Z" fill="url(#g3)" stroke="url(#g3)" stroke-width="0.6"/>
<path d="M826.0 463.8 L541.1 284.1 L544.8 283.1 L548.6 282.1 L552.3 281.1 L556.0 280.1 L559.8 279.2 L563.5 278.3 L567.3 277.4 L571.1 276.5 L574.9 275.6 L578.7 274.7 L582.6 273.8 L586.4 273.0 L590.2 272.2 L594.1 271.3 L598.0 270.5 L601.8 269.8 L605.7 269.0 L609.6 268.2 L613.5 267.5 L617.4 266.7 L621.4 266.0 L625.3 265.3 L629.2 264.6 L633.2 263.9 L637.2 263.3 L641.1 262.6 L645.1 262.0 L649.1 261.4 L653.1 260.8 L657.1 260.2 L661.1 259.6 L665.1 259.0 L669.1 258.5 L673.2 258.0 L677.2 257.4 L681.2 256.9 L685.3 256.4 Z" fill="url(#g4)" stroke="url(#g4)" stroke-width="0.6"/>
<path d="M826.0 463.8 L685.3 256.4 L689.4 256.0 L693.4 255.5 L697.5 255.0 L701.6 254.6 L705.7 254.2 L709.8 253.8 L713.9 253.4 L718.0 253.0 L722.1 252.6 L726.3 252.3 L730.4 251.9 L734.5 251.6 L738.6 251.3 L742.8 251.0 L746.9 250.7 L751.1 250.5 L755.2 250.2 L759.4 250.0 L763.5 249.8 L767.7 249.6 L771.8 249.4 L776.0 249.2 L780.1 249.0 L784.3 248.9 L788.5 248.7 L792.6 248.6 L796.8 248.5 L801.0 248.4 L805.1 248.3 L809.3 248.3 L813.5 248.2 L817.7 248.2 L821.8 248.2 L826.0 248.1 Z" fill="url(#g5)" stroke="url(#g5)" stroke-width="0.6"/>
<path d="M0 0h1v1h-1z M1652 0h1v1h-1z M0 1050h1v1h-1z M1652 1050h1v1h-1z" fill="#f4f4f4"/>
<path d="M755.6 178.1 L755.6 249.5" stroke="#a9a9a9" stroke-width="2.7" fill="none"/>
<path d="M264.2 275.6 L284.5 275.6 L464.6 309" stroke="#a9a9a9" stroke-width="2.7" fill="none" stroke-linejoin="round"/>
<text class="ti" x="244.21" y="106.8" textLength="1164.19" lengthAdjust="spacingAndGlyphs">Hauptabnehmerländer 2024, Anteil in %</text>
<text class="lb" x="570.21" y="167.8" textLength="215.65" lengthAdjust="spacingAndGlyphs">Albanien; 4,8</text>
<text class="lb" x="347.05" y="245.0" textLength="242.73" lengthAdjust="spacingAndGlyphs">Slowenien; 5,2</text>
<text class="lb" x="51.05" y="275.8" textLength="205.83" lengthAdjust="spacingAndGlyphs">Schweiz; 6,1</text>
<text class="lb" x="54.75" y="363.8" textLength="203.85" lengthAdjust="spacingAndGlyphs">Bosnien und</text>
<text class="lb" x="14.80" y="414.0" textLength="283.51" lengthAdjust="spacingAndGlyphs">Herzegowina; 7,4</text>
<text class="lb" x="1408.19" y="447.5" textLength="197.58" lengthAdjust="spacingAndGlyphs">Sonst.; 46,3</text>
<text class="lb" x="163.52" y="854.5" textLength="218.35" lengthAdjust="spacingAndGlyphs">Serbien; 30,2</text>
</svg>
</body></html>
